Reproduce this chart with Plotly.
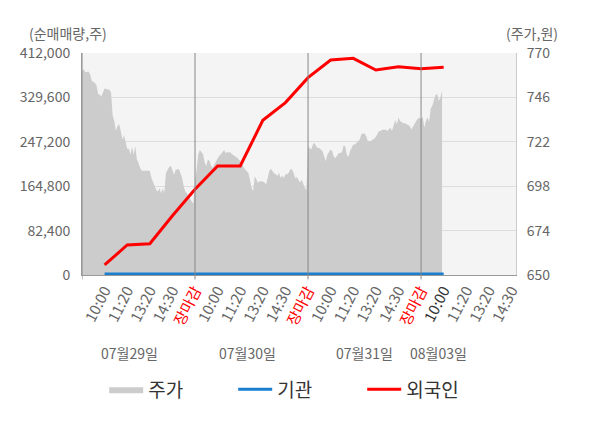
import plotly.graph_objects as go

# 주가 (원), 1 sample every 5/70 of a trading-day slot
price_d1 = [759.6, 761.5, 759.6, 760, 760, 758.7, 755, 754.5, 753.8, 752.4,
            747.8, 747.5, 746.5, 748.7, 750.9, 750.5, 750.5, 750.2, 748.7, 736,
            733.3, 727.8, 730.5, 731.5, 727.8, 723.3, 725.5, 722.4, 718.2, 718.2,
            715.1, 719.3, 715, 719.6, 712.4, 710.6, 707.8, 706.4, 706.4, 706.4,
            706.4, 706.4, 706.4, 702.4, 700, 697.8, 696, 695.1, 696.9, 694.2,
            696.9, 694.5, 705.1, 706.9, 708.4, 709, 706.9, 704.2, 706.9, 707.3,
            707.3, 705.1, 702.4, 697.8, 695.1, 694.2, 692.4, 690.6, 689.6, 688.7]
price_d2 = [700.7, 707, 715.3, 717.6, 716.2, 715.3, 710.7, 708.9, 712.5, 711.6,
            708.9, 708, 709.8, 711.6, 713.5, 714.4, 715.3, 716.2, 717.6, 715.8,
            716.5, 716.2, 716.2, 715.3, 714.4, 714, 713.5, 712.5, 711.6, 709.8,
            708, 707, 706.2, 705.3, 701.6, 697.1, 695.3, 703.5, 701.6, 699.8,
            700.7, 700.7, 700.5, 700.2, 698.9, 702.5, 706.2, 707.5, 706.2, 704.9,
            704.4, 703.5, 705.3, 702.5, 703.8, 702.5, 704.4, 704.4, 705.3, 707.1,
            707.1, 705.3, 702.5, 703, 701.6, 699.8, 701.6, 698.9, 697.1, 696]
price_d3 = [719.6, 718.5, 717.8, 720.5, 721.5, 719.6, 718.7, 718.7, 717.8, 716.9,
            714.2, 711.5, 715.1, 716.9, 717.8, 716.9, 713.8, 713.3, 715.1, 716,
            716, 716.4, 720, 719.6, 715.1, 713.8, 716.9, 718.7, 720.5, 720.5,
            721.5, 722.4, 723.3, 726, 726.5, 726.5, 725.1, 722.4, 722.4, 722.4,
            723.3, 723.6, 724.7, 726, 727.8, 727.8, 728.7, 728.4, 728.7, 727.8,
            728.7, 729.6, 727.8, 731.5, 733.8, 731.5, 735.1, 733.3, 732.7, 732,
            732, 731.5, 730.9, 730.5, 728.7, 730.5, 732.4, 733.3, 734.5, 735.1]
price_d4 = [734.2, 735.6, 729.6, 733.3, 735.1, 732.7, 740, 741.5, 744.7, 747.3,
            747.8, 744.2, 746, 749.6]

# 순매매량 (주) at each report time
foreign = [18600, 55700, 58100, 110000, 159000,
           202300, 202300, 287100, 320000, 366200,
           399000, 402100, 380500, 386600, 383000,
           385500]
institution = [2000] * 16

days = ["07월29일", "07월30일", "07월31일", "08월03일"]
times = ["10:00", "11:20", "13:20", "14:30", "장마감"]

SLOT = 5            # tick slots per trading day
PER_DAY = 70        # price samples per trading day

price_x, price_y = [], []
for d, arr in enumerate([price_d1, price_d2, price_d3, price_d4]):
    for i, v in enumerate(arr):
        price_x.append(d * SLOT + i * SLOT / PER_DAY)
        price_y.append(v)

tick_vals, tick_text = [], []
for d in range(len(days)):
    for j, t in enumerate(times):
        if d == 3 and j == 4:
            continue
        tick_vals.append(d * SLOT + j + 1)
        if t == "장마감":
            tick_text.append('<span style="color:#ff0000">장마감</span>')
        elif d == 3 and j == 0:
            tick_text.append('<span style="color:#333333">10:00</span>')
        else:
            tick_text.append(t)

flow_x = tick_vals[:len(foreign)]

FONT = "Noto Sans CJK KR"
GRAY = "#666666"

fig = go.Figure()
fig.add_trace(go.Scatter(
    x=price_x, y=price_y, name="주가",
    mode="lines", line=dict(width=0, color="#cccccc"),
    fill="tozeroy", fillcolor="#cccccc",
))
fig.add_trace(go.Scatter(
    x=flow_x, y=institution, name="기관", mode="lines", yaxis="y2",
    line=dict(color="#1a7fd0", width=3),
))
fig.add_trace(go.Scatter(
    x=flow_x, y=foreign, name="외국인", mode="lines", yaxis="y2",
    line=dict(color="#ff0000", width=3),
))

# day separators
for d in range(1, len(days)):
    fig.add_shape(type="line", xref="x", yref="paper",
                  x0=d * SLOT, x1=d * SLOT, y0=-0.02, y1=1,
                  line=dict(color="#888888", width=1))
fig.add_shape(type="line", xref="x", yref="paper", x0=0, x1=0,
              y0=-0.02, y1=1, line=dict(color="#888888", width=1))

# day labels
day_pos = [2.1, 7.3, 12.5, 15.75]
for p, lab in zip(day_pos, days):
    fig.add_annotation(x=p, y=-0.405, xref="x", yref="paper", text=lab,
                       showarrow=False, font=dict(size=14, color=GRAY))

fig.add_annotation(x=-0.033, y=1.09, xref="paper", yref="paper", text="(순매매량,주)",
                   showarrow=False, font=dict(size=14, color=GRAY),
                   xanchor="center", yanchor="middle")
fig.add_annotation(x=1.036, y=1.09, xref="paper", yref="paper", text="(주가,원)",
                   showarrow=False, font=dict(size=14, color=GRAY),
                   xanchor="center", yanchor="middle")

fig.update_layout(
    # page body adds an offset around the figure
    width=592, height=420,
    margin=dict(l=64, r=84, t=45, b=153),
    paper_bgcolor="white", plot_bgcolor="#f4f4f4",
    font=dict(family=FONT, color=GRAY, size=14),
    showlegend=True,
    legend=dict(orientation="h", x=0.497, xanchor="center", y=-0.43, yanchor="top",
                font=dict(size=19, color="#333333"), entrywidth=80,
                itemwidth=34, traceorder="normal"),
    xaxis=dict(range=[0, 19.2], tickmode="array", tickvals=tick_vals,
               ticktext=tick_text, tickangle=-63, showgrid=False,
               showline=True, linecolor="#999999", ticks="",
               tickfont=dict(size=15, color=GRAY), zeroline=False),
    yaxis=dict(range=[650, 770], tick0=650, dtick=24, side="right",
               showgrid=False, showline=True, linecolor="#cccccc",
               zeroline=False, ticks="", ticklabelstandoff=7,
               tickfont=dict(size=14, color=GRAY)),
    yaxis2=dict(range=[0, 412000], tick0=0, dtick=82400, tickformat=",",
                overlaying="y", side="left",
                gridcolor="#dddddd", showline=True, linecolor="#999999",
                zeroline=False, ticks="", ticklabelstandoff=8,
                tickfont=dict(size=14, color=GRAY)),
)

fig.write_html("out.html")
